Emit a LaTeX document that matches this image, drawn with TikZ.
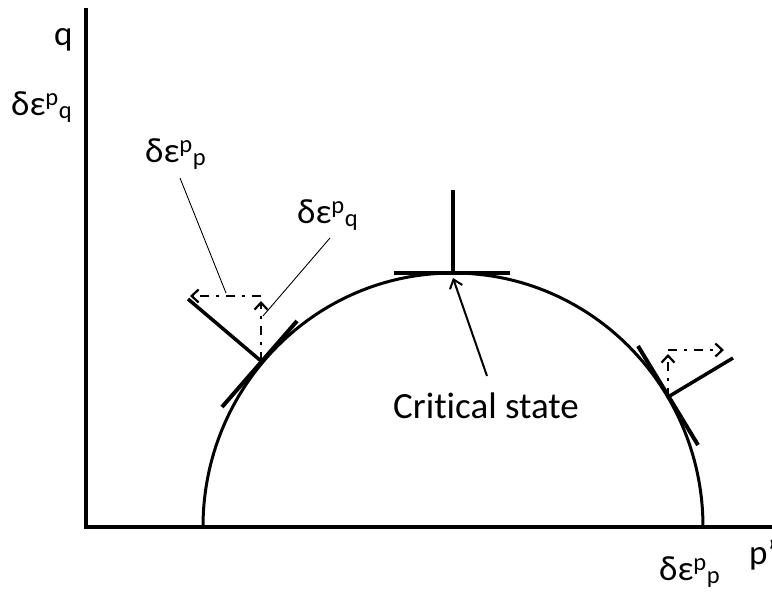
\documentclass[tikz,border=0pt]{standalone}
\usepackage{fontspec}
\setmainfont{Carlito}[Ligatures=NoCommon]
\usetikzlibrary{arrows.meta}
\newcommand\depsl[2]{δε\textsuperscript{#1}\textsubscript{#2}}
\tikzset{
  axisline/.style={line width=4pt},
  yieldcurve/.style={line width=3pt},
  tangentline/.style={line width=4pt},
  normalline/.style={line width=3.5pt},
  flowarrow/.style={line width=2.2pt, dash pattern=on 9pt off 7pt on 3pt off 7pt,
    -{Straight Barb[length=7pt,width=13pt,line width=2.2pt]}},
  leader/.style={line width=0.9pt},
  critarrow/.style={line width=2pt, -{Straight Barb[length=8pt,width=13pt,line width=2pt]}},
  lbl/.style={font=\fontsize{35}{37}\selectfont, inner sep=0pt, anchor=base west},
  biglbl/.style={font=\fontsize{37}{39}\selectfont, inner sep=0pt, anchor=base west}
}
\begin{document}
\begin{tikzpicture}[x=1pt,y=-1pt]
\useasboundingbox (0,0) rectangle (772,595);
% axes
\coordinate (top) at (86,8);
\coordinate (origin) at (86,527);
\coordinate (right) at (772,527);
\draw[axisline] (top) -- (origin) -- (right);
% yield curve
\coordinate (cstart) at (203,527);
\draw[yieldcurve] (cstart) arc[start angle=180, end angle=360, x radius=250, y radius=254];
% critical state
\coordinate (C) at (453,273);
\coordinate (Ct1) at (394,273);
\coordinate (Ct2) at (510,273);
\coordinate (Cn) at (453,190);
\draw[tangentline] (Ct1) -- (Ct2);
\draw[tangentline] (Cn) -- (C);
\node[biglbl] (crit) at (393,418) {Critical state};
\coordinate (Ctail) at (487,376);
\coordinate (Chead) at (453,278);
\draw[critarrow] (Ctail) -- (Chead);
% left point
\coordinate (L) at (261,361);
\coordinate (Lt1) at (222,407);
\coordinate (Lt2) at (297,321);
\coordinate (Ln) at (188,299);
\coordinate (Lc) at (261,296);
\coordinate (Lh) at (190,296);
\draw[tangentline] (Lt1) -- (Lt2);
\draw[normalline] (L) -- (Ln);
\draw[flowarrow] (L) -- (261,301);
\draw[flowarrow] (Lc) -- (Lh);
% right point
\coordinate (R) at (668,397);
\coordinate (Rt1) at (638,346);
\coordinate (Rt2) at (698,445);
\coordinate (Rn) at (733,358);
\coordinate (Rc) at (668,350);
\coordinate (Rh) at (724,350);
\draw[tangentline] (Rt1) -- (Rt2);
\draw[normalline] (R) -- (Rn);
\draw[flowarrow] (R) -- (668,354);
\draw[flowarrow] (Rc) -- (Rh);
% labels
\node[lbl] (qlab) at (54,45) {q};
\node[lbl] (qstrain) at (11,115) {\depsl{p}{q}};
\node[lbl] (pstrainup) at (145,162) {\depsl{p}{p}};
\node[lbl] (qstrainup) at (297,223) {\depsl{p}{q}};
\node[lbl] (pstrain) at (659,580) {\depsl{p}{p}};
\node[lbl] (plab) at (749,564) {p'};
% leaders
\coordinate (lead1a) at (180,178);
\coordinate (lead1b) at (226,293);
\coordinate (lead2a) at (330,238);
\coordinate (lead2b) at (263,316);
\draw[leader] (lead1a) -- (lead1b);
\draw[leader] (lead2a) -- (lead2b);
\end{tikzpicture}
\end{document}
